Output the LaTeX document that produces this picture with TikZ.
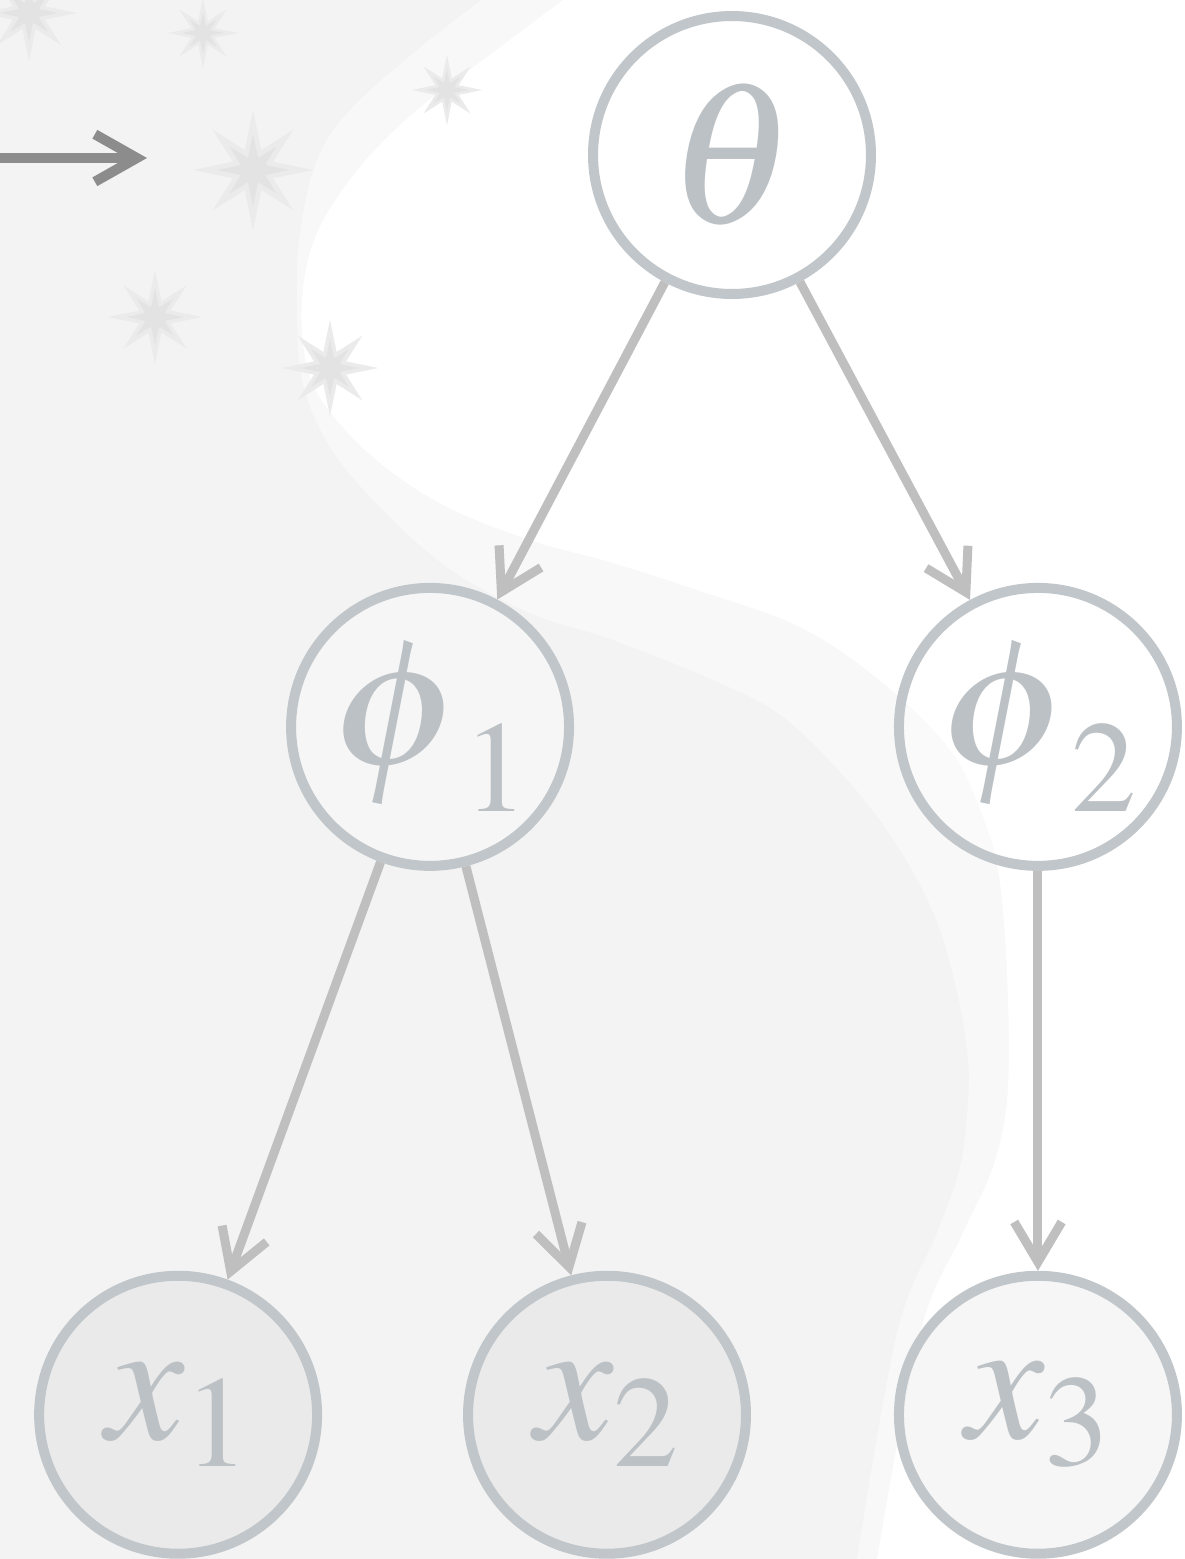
\documentclass[tikz,border=0pt]{standalone}
\usepackage{mathptmx}
\usetikzlibrary{positioning,arrows.meta}

\definecolor{bggray}{HTML}{F3F3F3}
\definecolor{bgband}{HTML}{F8F8F8}
\definecolor{nodeline}{HTML}{C1C6CA}
\definecolor{nodetext}{HTML}{BCC1C5}
\definecolor{edgeline}{HTML}{BFBFBF}
\definecolor{arrowdark}{HTML}{8C8C8C}
\definecolor{sparkfaint}{HTML}{EBEBEB}
\definecolor{sparkcore}{HTML}{E3E3E3}

% eight pointed sparkle: x, y, radius (px)
\newcommand{\sparkle}[3]{%
  \fill[sparkfaint] (#1,#2) +(0:#3)
    \foreach \a/\f in {22.5/.36,45/.95,67.5/.36,90/1,112.5/.36,135/.95,157.5/.36,180/1,
                       202.5/.36,225/.95,247.5/.36,270/1,292.5/.36,315/.95,337.5/.36}{ -- +(\a:\f*#3) } -- cycle;
  \fill[sparkcore] (#1,#2) +(0:0.6*#3)
    \foreach \a/\f in {22.5/.22,45/.55,67.5/.22,90/.6,112.5/.22,135/.55,157.5/.22,180/.6,
                       202.5/.22,225/.55,247.5/.22,270/.6,292.5/.22,315/.55,337.5/.22}{ -- +(\a:\f*#3) } -- cycle;
}
\newcommand{\widephi}{{\scalebox{1.2}[1.03]{$\phi$}}}

\tikzset{
  var/.style={circle, draw=nodeline, line width=0.2cm, minimum size=5.56cm, inner sep=0pt,
    text=nodetext, text opacity=1, font=\fontsize{100}{120}\selectfont},
  top/.style={var, fill=white},
  mid/.style={var, fill=white, fill opacity=0.3},
  obs/.style={var, fill=black, fill opacity=0.035},
  edge/.style={draw=edgeline, line width=0.18cm, -{Straight Barb[length=0.8cm, width=0.95cm]}},
}

\begin{document}
\begin{tikzpicture}[x=0.02cm, y=-0.02cm]
  \useasboundingbox (0,0) rectangle (1185,1559);
  \clip (0,0) rectangle (1185,1559);
  % background
  \fill[bggray] (0,0) rectangle (1185,1559);
  \fill[bgband] plot[smooth, tension=0.6] coordinates {(482,0) (417,50) (350,110) (317,160) (300,233)
      (297,300) (302,380) (330,447) (380,507) (447,567) (530,613) (613,640) (713,680) (783,717)
      (850,783) (900,850) (935,917) (955,983) (967,1050) (968,1100) (960,1167) (937,1233)
      (897,1333) (857,1559)} -- (1185,1559) -- (1185,0) -- cycle;
  \fill[white] plot[smooth, tension=0.6] coordinates {(563,0) (483,60) (417,110) (360,167) (317,233)
      (302,300) (307,367) (330,412) (380,463) (447,507) (530,540) (613,563) (697,590) (800,627)
      (883,683) (950,750) (983,817) (1000,883) (1008,1000) (1007,1100) (993,1167) (963,1233)
      (920,1333) (877,1559)} -- (1185,1559) -- (1185,0) -- cycle;
  % sparkles
  \sparkle{29}{13}{48}
  \sparkle{203}{33}{35}
  \sparkle{253}{170}{60}
  \sparkle{447}{90}{35}
  \sparkle{155}{317}{47}
  \sparkle{330}{368}{48}
  \coordinate (inA) at (-20,158);
  \coordinate (inB) at (147,158);
  \draw[arrowdark, line width=0.2cm, -{Straight Barb[length=0.84cm, width=0.95cm]}] (inA) -- (inB);

  \node [top] (theta) at (732,155) {\scalebox{1.15}{$\theta$}};
  \node [mid, on grid, below left=11.44cm and 6.04cm of theta] (phi1) {$\widephi_1$};
  \node [mid, on grid, below right=11.44cm and 6.12cm of theta] (phi2) {$\widephi_2$};
  \node [obs, on grid, below left=13.76cm and 5.04cm of phi1] (x1) {$x_1$};
  \node [obs, on grid, below right=13.76cm and 3.54cm of phi1] (x2) {$x_2$};
  \node [obs, on grid, below=13.76cm of phi2] (x3) {$x_3$};

  \draw[edge] (theta) -- (phi1);
  \draw[edge] (theta) -- (phi2);
  \draw[edge] (phi1) -- (x1);
  \draw[edge] (phi1) -- (x2);
  \draw[edge] (phi2) -- (x3);
\end{tikzpicture}
\end{document}
